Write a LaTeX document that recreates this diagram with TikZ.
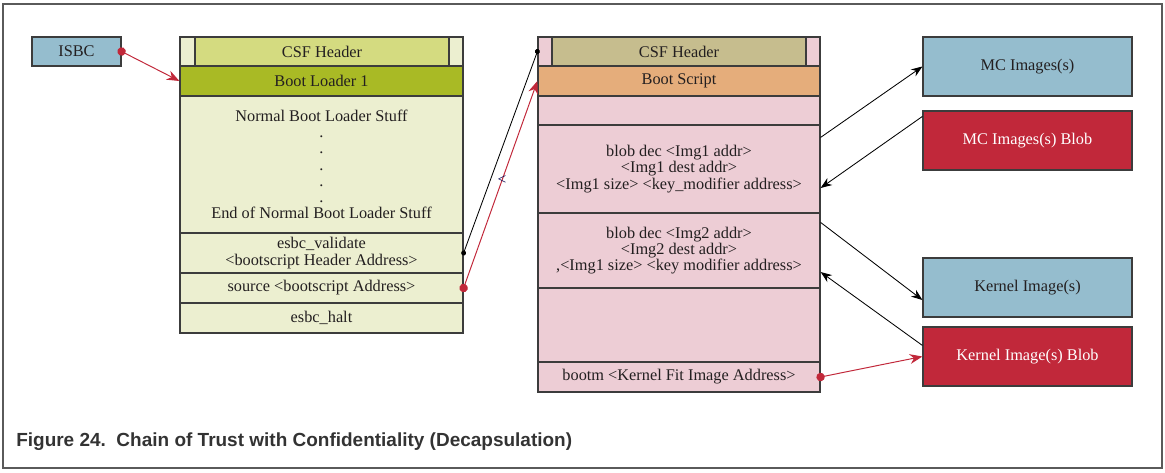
\documentclass[tikz,border=0pt]{standalone}
\usepackage{fontspec}
\setmainfont{Liberation Serif}
\newfontfamily\capfont{Liberation Sans}
\usetikzlibrary{arrows.meta}
\definecolor{isbcblue}{HTML}{95BDCE}
\definecolor{blobred}{HTML}{C1283A}
\definecolor{leftfill}{HTML}{ECEFD0}
\definecolor{csfleft}{HTML}{D4DB80}
\definecolor{bootgreen}{HTML}{A9BA25}
\definecolor{rightfill}{HTML}{EDCDD5}
\definecolor{csfright}{HTML}{C6BD8E}
\definecolor{scriptorange}{HTML}{E5AD7B}
\definecolor{linegray}{HTML}{3C3C3C}
\definecolor{framegray}{HTML}{5A5A5A}
\definecolor{textdark}{HTML}{231F20}
\definecolor{capgray}{HTML}{333333}

\begin{document}
\begin{tikzpicture}[x=0.025cm, y=-0.025cm,
        cell/.style={draw=linegray, line width=0.8pt, inner sep=0pt, align=center, text=textdark,
            font=\fontsize{11.6}{11.5}\selectfont},
        lcol/.style={cell, fill=leftfill, minimum width=7.075cm},
        rcol/.style={cell, fill=rightfill, minimum width=7.05cm},
        side/.style={cell, minimum width=5.225cm, minimum height=1.475cm},
        redline/.style={blobred, line width=0.7pt, shorten <=-3pt,
            {Circle[length=6pt]}-{Stealth[length=9pt, width=7pt]}}]
    \useasboundingbox (0,0) rectangle (1165,473);
    \draw[framegray, line width=1.8pt] (3,4) rectangle (1162,468);
    % boot loader image
    \node[lcol, minimum height=0.725cm] (csfL) at (321.5,51.5) {};
    \node[lcol, fill=csfleft, minimum width=6.35cm, minimum height=0.725cm] (csfLin) at (322,51.5) {CSF Header};
    \node[lcol, fill=bootgreen, minimum height=0.75cm] (bl) at (321.5,81) {Boot Loader 1};
    \node[lcol, minimum height=3.425cm] (stuff) at (321.5,164.5)
        {Normal Boot Loader Stuff\\.\\.\\.\\.\\.\\End of Normal Boot Loader Stuff};
    \node[lcol, minimum height=1cm] (val) at (321.5,253) {esbc\_validate\\<bootscript Header Address>};
    \node[lcol, minimum height=0.75cm] (src) at (321.5,288) {source <bootscript Address>};
    \node[lcol, minimum height=0.75cm] (halt) at (321.5,318) {esbc\_halt};
    % boot script image
    \node[rcol, minimum height=0.725cm] (csfR) at (679,51.5) {};
    \node[rcol, fill=csfright, minimum width=6.35cm, minimum height=0.725cm] (csfRin) at (679,51.5) {CSF Header};
    \node[rcol, fill=scriptorange, minimum height=0.75cm] (bs) at (679,81) {Boot Script};
    \node[rcol, minimum height=0.725cm] (gap1) at (679,110.5) {};
    \node[rcol, minimum height=2.2cm] (b1) at (679,169)
        {blob dec <Img1 addr>\\<Img1 dest addr>\\<Img1 size> <key\_modifier address>};
    \node[rcol, minimum height=1.875cm] (b2) at (679,250.5)
        {blob dec <Img2 addr>\\<Img2 dest addr>\\,<Img1 size> <key modifier address>};
    \node[rcol, minimum height=1.85cm] (gap2) at (679,325) {};
    \node[rcol, minimum height=0.75cm] (bm) at (679,377) {bootm <Kernel Fit Image Address>};
    % images and blobs
    \node[cell, fill=isbcblue, minimum width=2.225cm, minimum height=0.725cm] (isbc) at (76.5,51.5) {ISBC};
    \node[side, fill=isbcblue] (mc) at (1027.5,66.5) {MC Images(s)};
    \node[side, fill=blobred, text=white] (mcb) at (1027.5,140.5) {MC Images(s) Blob};
    \node[side, fill=isbcblue] (ki) at (1027.5,287.5) {Kernel Image(s)};
    \node[side, fill=blobred, text=white] (kb) at (1027.5,356.5) {Kernel Image(s) Blob};

    \draw[redline] (isbc.east) -- (bl.west);
    \draw[line width=0.6pt, shorten <=-1.75pt, shorten >=-1.75pt,
        {Circle[length=3.5pt]}-{Circle[length=3.5pt]}] (val.east) -- (csfR.west);
    \draw[redline] (src.east) -- (bs.west)
        node[pos=0.52, text=black!70!blue, inner sep=0pt, font=\fontsize{11}{11}\selectfont] (mark) {<};
    \path[-{Stealth[length=8pt, width=6pt]}, line width=0.6pt]
        ([yshift=-0.325cm]b1.north east) edge (mc.west)
        ([yshift=-0.15cm]mcb.north west) edge ([yshift=-0.475cm]b1.east)
        ([yshift=-0.25cm]b2.north east) edge ([yshift=-0.3125cm]ki.west)
        ([yshift=-0.475cm]kb.north west) edge ([yshift=-0.5375cm]b2.east);
    \draw[redline] (bm.east) -- (kb.west);

    \node[font=\capfont\bfseries\fontsize{13.5}{16}\selectfont, text=capgray, anchor=base west, inner sep=0pt]
        (cap) at (16,446) {Figure 24.\ \ Chain of Trust with Confidentiality (Decapsulation)};
\end{tikzpicture}
\end{document}
